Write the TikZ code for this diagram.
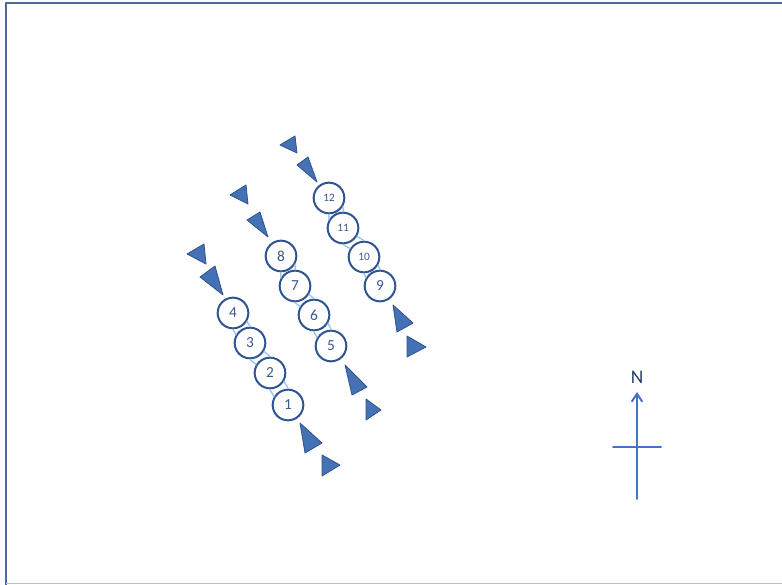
\documentclass[tikz,border=0pt]{standalone}
\usepackage{fontspec}
\setmainfont{Carlito}
\usetikzlibrary{arrows.meta, positioning, calc}
\definecolor{frameblue}{RGB}{79, 105, 150}
\definecolor{framelight}{RGB}{175, 193, 212}
\definecolor{ringblue}{RGB}{47, 84, 148}
\definecolor{numblue}{RGB}{62, 88, 140}
\definecolor{railblue}{RGB}{157, 195, 230}
\definecolor{vaneblue}{RGB}{68, 114, 180}
\definecolor{vaneedge}{RGB}{47, 82, 143}
\definecolor{arrowblue}{RGB}{68, 114, 196}
\definecolor{labelblue}{RGB}{35, 60, 105}
\tikzset{every path/.style={line cap=round, line join=round},
    turbine/.style={circle, draw=ringblue, line width=1.5pt, fill=white, minimum size=23pt, inner sep=0pt, text=numblue, font=\fontsize{11.5}{11.5}\selectfont},
    smallnum/.style={font=\fontsize{8.5}{8.5}\selectfont},
    rail/.style={railblue, line width=1pt},
    vane/.style={fill=vaneblue, draw=vaneedge, line width=0.6pt}}

\begin{document}
\begin{tikzpicture}[x=0.75pt, y=-0.75pt]
    \useasboundingbox (0,0) rectangle (782,585);
    % frame
    \draw [frameblue, line width=2pt, line cap=butt] (6,585) -- (6,3) -- (782,3);
    \draw [framelight, line width=1.2pt, line cap=butt] (6,583.5) -- (782,583.5);

    % turbines
    \node [turbine] (t1) at (288,405) {1};
    \node [turbine] (t2) at (270,373) {2};
    \node [turbine] (t3) at (250,343) {3};
    \node [turbine] (t4) at (233,313) {4};
    \node [turbine] (t5) at (331,346) {5};
    \node [turbine] (t6) at (314,315) {6};
    \node [turbine] (t7) at (295,286) {7};
    \node [turbine] (t8) at (281,256) {8};
    \node [turbine] (t9) at (380,286) {9};
    \node [turbine, smallnum] (t10) at (364,257) {10};
    \node [turbine, smallnum] (t11) at (343,228) {11};
    \node [turbine, smallnum] (t12) at (329,198) {12};

    % rails between neighbours
    \foreach \a/\b in {t4/t3, t3/t2, t2/t1, t8/t7, t7/t6, t6/t5, t12/t11, t11/t10, t10/t9} {
        \draw [rail] (\a.-31) -- (\b.89);
        \draw [rail] (\a.-91) -- (\b.149);
    }

    % vanes
    \foreach \ax/\ay/\bx/\by/\cx/\cy in {
        187/254/204/244/206/264, 200/277/215/266/223/295,
        300/423/305/453/322/443, 322/455/322/476/340/465,
        230/195/246/185/248/204, 247/220/260/212/268/237,
        345/365/352/395/367/387, 366/399/366/420/381/410,
        280/145/295/136/297/153, 297/165/308/157/317/182,
        393/305/397/332/413/323, 407/336/407/357/426/347} {
        \fill [vane] (\ax,\ay) -- (\bx,\by) -- (\cx,\cy) -- cycle;
    }

    % compass
    \node [text=labelblue, font=\fontsize{14.5}{14.5}\selectfont] (north) at (637,377) {N};
    \coordinate (cbase) at (637,499);
    \coordinate (cwest) at (613,447);
    \coordinate (ceast) at (661,447);
    \draw [arrowblue, line width=1.5pt, -{Straight Barb[length=6pt, width=8pt]}, shorten >=3pt] (cbase) -- (north.south);
    \draw [arrowblue, line width=1.5pt] (cwest) -- (ceast);
\end{tikzpicture}
\end{document}
